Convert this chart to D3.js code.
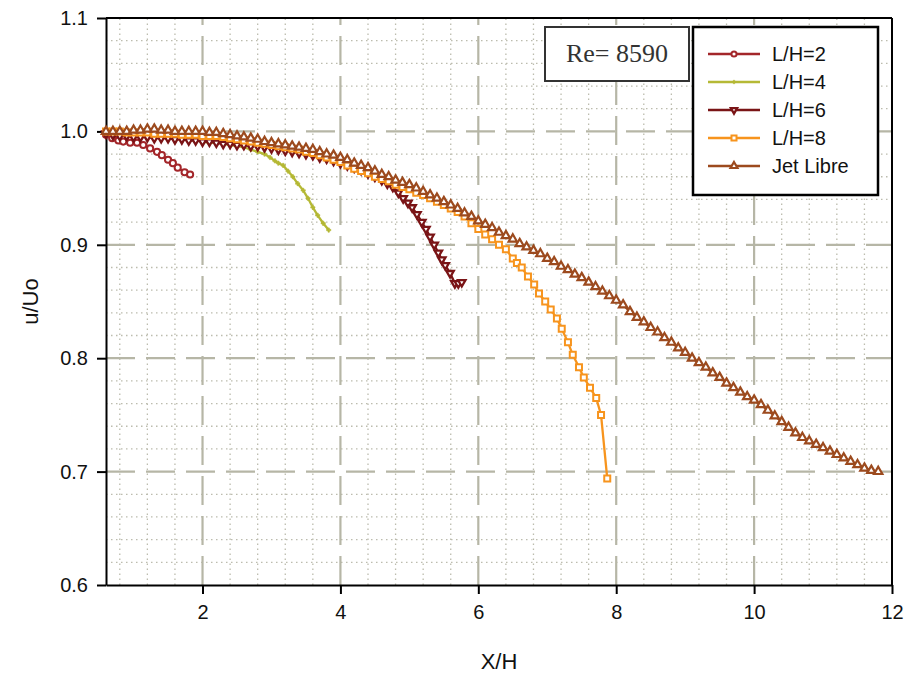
<!DOCTYPE html>
<html><head><meta charset="utf-8">
<script src="https://cdn.jsdelivr.net/npm/d3@7"></script>
<style>body{margin:0;background:#fff;} svg{display:block;}</style>
</head><body><svg id="c" width="911" height="677"></svg>
<script>
// ---------- DATA ----------
const xTickValues = [2, 4, 6, 8, 10, 12];
const yTickValues = [0.6, 0.7, 0.8, 0.9, 1.0, 1.1];
const seriesNames = ["L/H=2", "L/H=4", "L/H=6", "L/H=8", "Jet Libre"];
const reynoldsLabel = "Re= 8590";
const xTitle = "X/H";
const yTitle = "u/Uo";

const lh2X = [0.60, 0.69, 0.78, 0.85, 0.95, 1.05, 1.14, 1.24, 1.34, 1.41, 1.50, 1.57, 1.64, 1.74, 1.82];
const lh2Y = [0.997, 0.994, 0.992, 0.991, 0.990, 0.990, 0.988, 0.985, 0.982, 0.979, 0.975, 0.972, 0.968, 0.964, 0.962];

const lh4X = [0.6, 0.7, 0.8, 0.9, 1.0, 1.1, 1.2, 1.3, 1.4, 1.5, 1.6, 1.7, 1.8, 1.9, 2.0, 2.1, 2.2, 2.3, 2.4, 2.5, 2.6, 2.7,
              2.8, 2.9, 2.98, 3.05, 3.1, 3.17, 3.24, 3.31, 3.38, 3.46, 3.53, 3.6, 3.67, 3.75, 3.83];
const lh4Y = [0.998, 0.998, 0.997, 0.997, 0.996, 0.996, 0.995, 0.995, 0.994, 0.994, 0.993, 0.993, 0.992, 0.992, 0.991, 0.990, 0.990, 0.989, 0.988, 0.987, 0.986, 0.984,
              0.982, 0.980, 0.977, 0.974, 0.972, 0.970, 0.965, 0.960, 0.954, 0.948, 0.941, 0.933, 0.926, 0.919, 0.913];

const lh6X = [0.6, 0.7, 0.8, 0.9, 1.0, 1.1, 1.2, 1.3, 1.4, 1.5, 1.6, 1.7, 1.8, 1.9, 2.0, 2.1, 2.2, 2.3, 2.4, 2.5,
              2.6, 2.7, 2.8, 2.9, 3.0, 3.1, 3.2, 3.3, 3.4, 3.5, 3.6, 3.7, 3.8, 3.9, 4.0, 4.1, 4.2, 4.3, 4.4, 4.5, 4.6,
              4.68, 4.76, 4.84, 4.91, 4.98, 5.04, 5.11, 5.18, 5.24, 5.30, 5.36, 5.42, 5.47, 5.52, 5.59, 5.66, 5.71, 5.76];
const lh6Y = [0.998, 0.997, 0.996, 0.996, 0.995, 0.995, 0.995, 0.994, 0.994, 0.994, 0.993, 0.993, 0.992, 0.992, 0.991, 0.991, 0.990, 0.989, 0.989, 0.988,
              0.988, 0.987, 0.987, 0.986, 0.985, 0.984, 0.983, 0.982, 0.981, 0.980, 0.979, 0.977, 0.976, 0.974, 0.972, 0.970, 0.968, 0.966, 0.963, 0.960, 0.957,
              0.954, 0.951, 0.946, 0.941, 0.937, 0.933, 0.927, 0.920, 0.914, 0.907, 0.900, 0.893, 0.887, 0.882, 0.875, 0.866, 0.866, 0.867];

const lh8X = [0.6, 0.7, 0.8, 0.9, 1.0, 1.1, 1.2, 1.3, 1.4, 1.5, 1.6, 1.7, 1.8, 1.9, 2.0,
              2.1, 2.2, 2.3, 2.4, 2.5, 2.6, 2.7, 2.8, 2.9, 3.0, 3.1, 3.2, 3.3, 3.4, 3.5, 3.6, 3.7, 3.8, 3.9, 4.0,
              4.1, 4.2, 4.3, 4.4, 4.5, 4.6, 4.7, 4.8, 4.9, 5.0, 5.1, 5.2, 5.3, 5.4, 5.5, 5.6, 5.7, 5.8,
              5.9, 6.0, 6.1, 6.2, 6.3, 6.4, 6.5, 6.56, 6.63, 6.72, 6.81, 6.88, 6.97, 7.05, 7.14, 7.21, 7.30, 7.37, 7.46, 7.53, 7.62, 7.71, 7.78, 7.87];
const lh8Y = [1.000, 1.000, 1.000, 0.999, 0.999, 0.999, 0.999, 0.998, 0.998, 0.998, 0.998, 0.997, 0.997, 0.997, 0.996,
              0.996, 0.996, 0.995, 0.994, 0.993, 0.992, 0.991, 0.990, 0.989, 0.988, 0.987, 0.986, 0.985, 0.984, 0.982, 0.981, 0.979, 0.977, 0.975, 0.973,
              0.970, 0.967, 0.965, 0.963, 0.960, 0.958, 0.956, 0.953, 0.951, 0.949, 0.946, 0.944, 0.941, 0.938, 0.935, 0.932, 0.929, 0.925,
              0.919, 0.914, 0.909, 0.905, 0.900, 0.896, 0.888, 0.884, 0.880, 0.872, 0.865, 0.857, 0.850, 0.843, 0.835, 0.826, 0.814, 0.803, 0.792, 0.783, 0.774, 0.765, 0.750, 0.694];

const jetX = [0.6, 0.7, 0.8, 0.9, 1.0, 1.1, 1.2, 1.3, 1.4, 1.5, 1.6, 1.7, 1.8, 1.9, 2.0, 2.1, 2.2, 2.3, 2.4, 2.5,
              2.6, 2.7, 2.8, 2.9, 3.0, 3.1, 3.2, 3.3, 3.4, 3.5, 3.6, 3.7, 3.8, 3.9, 4.0, 4.1, 4.2, 4.3, 4.4, 4.5,
              4.6, 4.7, 4.8, 4.9, 5.0, 5.1, 5.2, 5.3, 5.4, 5.5, 5.6, 5.7, 5.8, 5.9, 6.0, 6.1, 6.2, 6.3, 6.4, 6.5,
              6.6, 6.7, 6.8, 6.9, 7.0, 7.1, 7.2, 7.3, 7.4, 7.5, 7.6, 7.7, 7.8, 7.9, 8.0, 8.1, 8.2, 8.3, 8.4, 8.5,
              8.6, 8.7, 8.8, 8.9, 9.0, 9.1, 9.2, 9.3, 9.4, 9.5, 9.6, 9.7, 9.8, 9.9, 10.0, 10.1, 10.2, 10.3, 10.4, 10.5,
              10.6, 10.7, 10.8, 10.9, 11.0, 11.1, 11.2, 11.3, 11.4, 11.5, 11.6, 11.7, 11.8];
const jetY = [1.000, 1.000, 1.000, 1.000, 1.001, 1.001, 1.002, 1.002, 1.001, 1.001,
              1.000, 1.000, 1.000, 1.000, 1.000, 0.999, 0.999, 0.998, 0.997, 0.996,
              0.995, 0.994, 0.993, 0.991, 0.990, 0.989, 0.988, 0.987, 0.986, 0.985,
              0.984, 0.982, 0.980, 0.979, 0.977, 0.975, 0.972, 0.970, 0.968, 0.965,
              0.962, 0.960, 0.957, 0.955, 0.953, 0.950, 0.947, 0.944, 0.941, 0.938,
              0.935, 0.932, 0.928, 0.925, 0.921, 0.918, 0.915, 0.911, 0.908, 0.905,
              0.901, 0.898, 0.895, 0.892, 0.888, 0.885, 0.881, 0.878, 0.874, 0.871,
              0.867, 0.863, 0.859, 0.855, 0.851, 0.847, 0.841, 0.836, 0.832, 0.827,
              0.823, 0.818, 0.814, 0.809, 0.805, 0.800, 0.796, 0.792, 0.787, 0.783,
              0.778, 0.774, 0.770, 0.766, 0.763, 0.759, 0.754, 0.749, 0.744, 0.739,
              0.734, 0.730, 0.727, 0.724, 0.721, 0.718, 0.715, 0.712, 0.709, 0.706,
              0.703, 0.701, 0.700];

// ---------- STYLE ----------
const seriesColors = ["#a3262a", "#b5b935", "#7a1416", "#f7941d", "#9c4a1e"];
const seriesX = [lh2X, lh4X, lh6X, lh8X, jetX];
const seriesY = [lh2Y, lh4Y, lh6Y, lh8Y, jetY];
const markerDefs = [
  {type: d3.symbolCircle, size: 30, rot: 0, fill: "#fff", sw: 2},
  {type: d3.symbolCross, size: 10, rot: 0, fill: null, sw: 0.6},
  {type: d3.symbolTriangle, size: 24, rot: 180, fill: "#fff", sw: 2.3},
  {type: d3.symbolSquare, size: 36, rot: 0, fill: "#fff", sw: 2},
  {type: d3.symbolTriangle, size: 30, rot: 0, fill: "#fff", sw: 2.2}
];
const series = seriesNames.map((name, i) => ({
  name, color: seriesColors[i], marker: markerDefs[i],
  points: seriesX[i].map((xv, j) => ({x: xv, y: seriesY[i][j]}))
}));

const W = 911, H = 677;
const m = {l: 106, t: 18, r: 19, b: 92};
const svg = d3.select("#c");
const x = d3.scaleLinear().domain([0.6, 12]).range([m.l, W - m.r]);
const y = d3.scaleLinear().domain([0.6, 1.1]).range([H - m.b, m.t]);
const FONT = "'Liberation Sans', Arial, sans-serif";

// minor grid
const minorX = d3.range(2, 30).filter(i => i % 5 !== 0).map(i => i * 0.4);
const minorY = d3.range(31, 55).filter(i => i % 5 !== 0).map(i => i * 0.02);
const gMinor = svg.append("g").attr("stroke", "#bcbcae").attr("stroke-width", 1.3).attr("stroke-dasharray", "1.5,3.5");
gMinor.selectAll("line.vx").data(minorX).join("line")
  .attr("x1", d => x(d)).attr("x2", d => x(d)).attr("y1", y(0.6)).attr("y2", y(1.1));
gMinor.selectAll("line.hy").data(minorY).join("line")
  .attr("x1", x(0.6)).attr("x2", x(12)).attr("y1", d => y(d)).attr("y2", d => y(d));

// major grid
const gMajor = svg.append("g").attr("stroke", "#b6b6a6").attr("stroke-width", 2.2).attr("stroke-dasharray", "29,11");
gMajor.selectAll("line.v").data(xTickValues.filter(d => d < 12)).join("line")
  .attr("x1", d => x(d)).attr("x2", d => x(d)).attr("y1", y(0.6)).attr("y2", y(1.1));
gMajor.selectAll("line.h").data(yTickValues.filter(d => d > 0.6 && d < 1.1)).join("line")
  .attr("x1", x(0.6)).attr("x2", x(12)).attr("y1", d => y(d)).attr("y2", d => y(d));

// frame top & right
svg.append("line").attr("x1", x(0.6)).attr("x2", x(12)).attr("y1", y(1.1)).attr("y2", y(1.1)).attr("stroke", "#000").attr("stroke-width", 2);
svg.append("line").attr("x1", x(12)).attr("x2", x(12)).attr("y1", y(1.1)).attr("y2", y(0.6)).attr("stroke", "#000").attr("stroke-width", 2);

// axes
const yAxis = svg.append("g").attr("transform", `translate(${m.l},0)`)
  .call(d3.axisLeft(y).tickValues(yTickValues).tickSize(9).tickSizeOuter(0).tickPadding(9).tickFormat(d3.format(".1f")));
const xAxis = svg.append("g").attr("transform", `translate(0,${H - m.b})`)
  .call(d3.axisBottom(x).tickValues(xTickValues).tickSize(9).tickSizeOuter(0).tickPadding(11).tickFormat(d3.format("d")));
[yAxis, xAxis].forEach(a => {
  a.select(".domain").attr("stroke", "#000").attr("stroke-width", 2);
  a.selectAll(".tick line").attr("stroke", "#000").attr("stroke-width", 2);
  a.selectAll(".tick text").attr("font-family", FONT).attr("font-size", 20).attr("fill", "#111");
});

// axis titles
svg.append("text").attr("x", (x(0.6) + x(12)) / 2).attr("y", 669).attr("text-anchor", "middle")
  .attr("font-family", FONT).attr("font-size", 22).attr("fill", "#111").text(xTitle);
svg.append("text").attr("transform", `translate(38,${(y(0.6) + y(1.1)) / 2}) rotate(-90)`).attr("text-anchor", "middle")
  .attr("font-family", FONT).attr("font-size", 22).attr("fill", "#111").text(yTitle);

// series
const line = d3.line().x(d => x(d.x)).y(d => y(d.y));
series.forEach(s => {
  const g = svg.append("g");
  g.append("path").datum(s.points).attr("d", line).attr("fill", "none")
    .attr("stroke", s.color).attr("stroke-width", 2.3);
  const sym = d3.symbol().type(s.marker.type).size(s.marker.size);
  g.selectAll("path.mk").data(s.points).join("path").attr("class", "mk")
    .attr("transform", d => `translate(${x(d.x)},${y(d.y)}) rotate(${s.marker.rot})`)
    .attr("d", sym)
    .attr("fill", s.marker.fill || s.color)
    .attr("stroke", s.color).attr("stroke-width", s.marker.sw);
});

// Re box
svg.append("rect").attr("x", 545).attr("y", 27).attr("width", 144).attr("height", 54)
  .attr("fill", "#fff").attr("stroke", "#333").attr("stroke-width", 2);
svg.append("text").attr("x", 617).attr("y", 62).attr("text-anchor", "middle")
  .attr("font-family", "'Liberation Serif', 'Times New Roman', serif").attr("font-size", 26).attr("fill", "#333")
  .text(reynoldsLabel);

// legend
const lg = svg.append("g");
lg.append("rect").attr("x", 693).attr("y", 27).attr("width", 185).attr("height", 168)
  .attr("fill", "#fff").attr("stroke", "#000").attr("stroke-width", 2.5);
series.forEach((s, i) => {
  const ly = 54 + i * 28;
  lg.append("line").attr("x1", 708).attr("x2", 760).attr("y1", ly).attr("y2", ly)
    .attr("stroke", s.color).attr("stroke-width", 2.3);
  lg.append("path").attr("transform", `translate(734,${ly}) rotate(${s.marker.rot})`)
    .attr("d", d3.symbol().type(s.marker.type).size(s.marker.size * 0.7))
    .attr("fill", s.marker.fill || s.color).attr("stroke", s.color).attr("stroke-width", s.marker.sw);
  lg.append("text").attr("x", 772).attr("y", ly).attr("dy", "0.36em")
    .attr("font-family", FONT).attr("font-size", 20).attr("fill", "#111").text(s.name);
});
</script>
</body></html>
